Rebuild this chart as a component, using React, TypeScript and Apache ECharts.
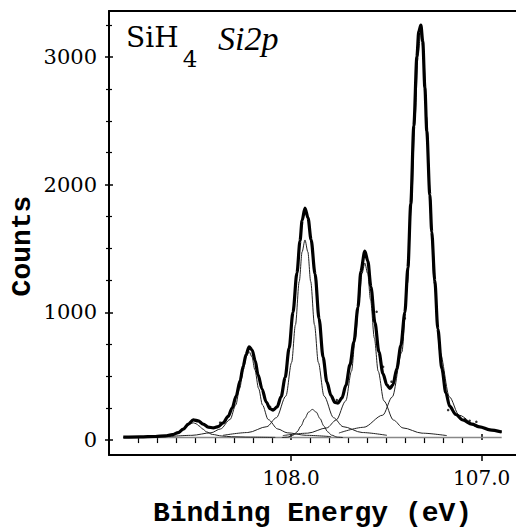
import { useEffect, useRef } from "react";
import * as echarts from "echarts";

// ---- axis ticks / labels ----
const xMajorTicks = [108.0, 107.0];
const xMinorTicks = [108.8, 108.7, 108.6, 108.5, 108.4, 108.3, 108.2, 108.1, 107.9, 107.8, 107.7, 107.6, 107.5, 107.4, 107.3, 107.2, 107.1];
const yMajorTicks = [0, 1000, 2000, 3000];
const yMinorTicks = [250, 500, 750, 1250, 1500, 1750, 2250, 2500, 2750, 3250];

// ---- data: [binding energy (eV), counts] ----
const totalFit: [number, number][] = [
  [108.88, 23], [108.791, 25], [108.712, 28], [108.66, 33], [108.623, 42], [108.592, 58],
  [108.565, 85], [108.539, 125], [108.513, 158], [108.487, 150], [108.461, 125], [108.435, 102],
  [108.408, 95], [108.382, 105], [108.356, 135], [108.33, 185], [108.309, 250], [108.288, 345],
  [108.267, 465], [108.251, 580], [108.236, 670], [108.22, 730], [108.204, 705], [108.188, 620],
  [108.173, 510], [108.152, 400], [108.131, 300], [108.11, 245], [108.094, 235], [108.073, 260],
  [108.052, 340], [108.031, 490], [108.01, 720], [107.99, 1000], [107.969, 1310], [107.953, 1560],
  [107.942, 1720], [107.927, 1817], [107.911, 1740], [107.895, 1570], [107.874, 1300], [107.853, 950],
  [107.832, 650], [107.812, 455], [107.791, 350], [107.77, 295], [107.754, 290], [107.733, 330],
  [107.712, 430], [107.691, 590], [107.67, 770], [107.649, 1040], [107.634, 1320], [107.613, 1480],
  [107.597, 1400], [107.581, 1200], [107.56, 920], [107.539, 690], [107.518, 520], [107.497, 430],
  [107.482, 405], [107.466, 430], [107.445, 560], [107.424, 740], [107.403, 1000], [107.387, 1350],
  [107.372, 1850], [107.356, 2460], [107.34, 3000], [107.33, 3200], [107.319, 3250], [107.309, 3120],
  [107.298, 2760], [107.288, 2420], [107.272, 1920], [107.262, 1630], [107.246, 1250], [107.23, 870],
  [107.209, 560], [107.188, 370], [107.168, 265], [107.136, 200], [107.099, 157], [107.052, 125],
  [107.01, 104], [106.958, 80], [106.895, 63],
];

const peak1: [number, number][] = [
  [108.88, 21], [108.813, 23], [108.713, 26], [108.663, 32], [108.613, 44], [108.583, 64],
  [108.563, 86], [108.543, 111], [108.528, 128], [108.513, 135], [108.498, 128], [108.483, 111],
  [108.463, 86], [108.443, 64], [108.413, 44], [108.363, 32], [108.313, 26], [108.213, 23], [108.083, 21],
];
const peak2: [number, number][] = [
  [108.65, 27], [108.52, 37], [108.42, 57], [108.37, 87], [108.32, 161], [108.29, 275],
  [108.27, 403], [108.25, 551], [108.235, 652], [108.22, 692], [108.205, 652], [108.19, 551],
  [108.17, 403], [108.15, 275], [108.12, 161], [108.07, 87], [108.02, 57], [107.92, 37], [107.79, 27],
];
const peak3: [number, number][] = [
  [108.357, 37], [108.227, 59], [108.127, 105], [108.077, 175], [108.027, 345], [107.997, 608],
  [107.977, 902], [107.957, 1242], [107.942, 1474], [107.927, 1567], [107.912, 1474], [107.897, 1242],
  [107.877, 902], [107.857, 608], [107.827, 345], [107.777, 175], [107.727, 105], [107.627, 59], [107.497, 37],
];
const peak4: [number, number][] = [
  [108.043, 35], [107.913, 54], [107.813, 95], [107.763, 157], [107.713, 307], [107.683, 539],
  [107.663, 799], [107.643, 1099], [107.628, 1304], [107.613, 1386], [107.598, 1304], [107.583, 1099],
  [107.563, 799], [107.543, 539], [107.513, 307], [107.463, 157], [107.413, 95], [107.313, 54], [107.183, 35],
];
const peak5: [number, number][] = [
  [107.749, 55], [107.619, 100], [107.519, 195], [107.469, 338], [107.419, 688], [107.389, 1228],
  [107.369, 1833], [107.349, 2532], [107.334, 3009], [107.319, 3200], [107.304, 3009], [107.289, 2532],
  [107.269, 1833], [107.249, 1228], [107.219, 688], [107.169, 338], [107.119, 195], [107.019, 100], [106.895, 60],
];
const smallPeak: [number, number][] = [
  [108.048, 20], [108.018, 23], [107.988, 39], [107.968, 65], [107.948, 110], [107.928, 168],
  [107.908, 219], [107.888, 240], [107.868, 219], [107.848, 168], [107.828, 110], [107.808, 65],
  [107.788, 39], [107.758, 23], [107.728, 20],
];
const background: [number, number][] = [[108.88, 20], [106.895, 20]];
const rawPoints: [number, number][] = [
  [107.176, 235], [107.089, 162], [107.063, 151], [107.028, 143], [107.517, 574], [107.473, 457],
  [107.76, 313], [107.551, 1005], [107.403, 953], [108.11, 261], [108.372, 136],
];

const X_MIN = 106.82;
const X_MAX = 108.955;
const Y_MIN = -117;
const Y_MAX = 3360;

const hidden = { show: false };

function xAx(extra: any) {
  return {
    type: "value",
    min: X_MIN,
    max: X_MAX,
    inverse: true,
    position: "bottom",
    splitLine: hidden,
    axisLine: hidden,
    axisLabel: hidden,
    axisTick: hidden,
    ...extra,
  };
}
function yAx(extra: any) {
  return {
    type: "value",
    min: Y_MIN,
    max: Y_MAX,
    position: "left",
    splitLine: hidden,
    axisLine: hidden,
    axisLabel: hidden,
    axisTick: hidden,
    ...extra,
  };
}

const serif = "'DejaVu Serif', 'Liberation Serif', serif";
const italicSerif = "'Liberation Serif', serif";
const mono = "'Liberation Mono', 'DejaVu Sans Mono', monospace";

function comp(data: [number, number][], width = 1) {
  return {
    type: "line",
    data,
    xAxisIndex: 0,
    yAxisIndex: 0,
    showSymbol: false,
    symbol: "none",
    smooth: 0.3,
    smoothMonotone: "x",
    lineStyle: { color: "#222", width },
    z: 2,
  };
}

export default function App() {
  const ref = useRef<HTMLDivElement>(null);
  useEffect(() => {
    const chart = echarts.init(ref.current!, null, { renderer: "svg" });
    const option: any = {
      animation: false,
      backgroundColor: "#fff",
      grid: { left: 109, top: 11, right: 0, bottom: 77, containLabel: false },
      xAxis: [
        xAx({
          axisLine: { show: true, onZero: false, lineStyle: { color: "#000", width: 2 } },
          axisTick: { show: true, customValues: xMajorTicks, length: 6, inside: false, lineStyle: { color: "#000", width: 1.5 } },
          axisLabel: {
            show: true,
            customValues: xMajorTicks,
            formatter: (v: number) => v.toFixed(1),
            margin: 13,
            fontFamily: serif,
            fontSize: 20,
            color: "#000",
          },
          name: "Binding Energy (eV)",
          nameLocation: "middle",
          nameGap: 44,
          nameTextStyle: { fontFamily: mono, fontWeight: "bold", fontSize: 28, color: "#000" },
        }),
        xAx({ axisTick: { show: true, customValues: xMajorTicks, length: 6, inside: true, lineStyle: { color: "#000", width: 1.5 } } }),
        xAx({ axisTick: { show: true, customValues: xMinorTicks, length: 3, inside: false, lineStyle: { color: "#000", width: 1.2 } } }),
        xAx({ axisTick: { show: true, customValues: xMinorTicks, length: 3, inside: true, lineStyle: { color: "#000", width: 1.2 } } }),
        xAx({ position: "top", axisLine: { show: true, onZero: false, lineStyle: { color: "#000", width: 2 } } }),
      ],
      yAxis: [
        yAx({
          axisLine: { show: true, onZero: false, lineStyle: { color: "#000", width: 2 } },
          axisTick: { show: true, customValues: yMajorTicks, length: 4, inside: false, lineStyle: { color: "#000", width: 1.5 } },
          axisLabel: {
            show: true,
            customValues: yMajorTicks,
            formatter: (v: number) => String(v),
            margin: 12,
            fontFamily: serif,
            fontSize: 21,
            color: "#000",
          },
        }),
        yAx({ axisTick: { show: true, customValues: yMajorTicks, length: 4, inside: true, lineStyle: { color: "#000", width: 1.5 } } }),
        yAx({ axisTick: { show: true, customValues: yMinorTicks, length: 3, inside: false, lineStyle: { color: "#000", width: 1.2 } } }),
        yAx({ axisTick: { show: true, customValues: yMinorTicks, length: 3, inside: true, lineStyle: { color: "#000", width: 1.2 } } }),
      ],
      series: [
        {
          type: "line",
          data: background,
          xAxisIndex: 0,
          yAxisIndex: 0,
          showSymbol: false,
          symbol: "none",
          lineStyle: { color: "#888", width: 1.5 },
          z: 1,
        },
        comp(peak1),
        comp(peak2),
        comp(peak3),
        comp(peak4),
        comp(peak5),
        comp(smallPeak),
        {
          type: "scatter",
          data: rawPoints,
          xAxisIndex: 0,
          yAxisIndex: 0,
          symbolSize: 2.5,
          itemStyle: { color: "#000" },
          z: 3,
        },
        {
          type: "line",
          data: totalFit,
          xAxisIndex: 0,
          yAxisIndex: 0,
          showSymbol: false,
          symbol: "none",
          smooth: 0.3,
          smoothMonotone: "x",
          lineStyle: { color: "#000", width: 3.2 },
          z: 4,
        },
      ],
      graphic: [
        {
          type: "text",
          x: 126,
          y: 37,
          style: { text: "SiH", fontFamily: serif, fontSize: 28, fill: "#000", textAlign: "left", align: "left", textVerticalAlign: "middle", verticalAlign: "middle" },
        },
        {
          type: "text",
          x: 190,
          y: 59,
          style: { text: "4", fontFamily: serif, fontSize: 23, fill: "#000", textAlign: "center", align: "center", textVerticalAlign: "middle", verticalAlign: "middle" },
        },
        {
          type: "text",
          x: 218,
          y: 38,
          style: { text: "Si2p", fontFamily: italicSerif, fontStyle: "italic", fontSize: 34, fill: "#000", textAlign: "left", align: "left", textVerticalAlign: "middle", verticalAlign: "middle" },
        },
        {
          type: "text",
          x: 22,
          y: 246,
          rotation: Math.PI / 2,
          style: { text: "Counts", fontFamily: mono, fontWeight: "bold", fontSize: 28, fill: "#000", textAlign: "center", align: "center", textVerticalAlign: "middle", verticalAlign: "middle" },
        },
      ],
    };
    chart.setOption(option);
    return () => chart.dispose();
  }, []);
  return (
    <div
      ref={ref}
      style={{ position: "absolute", left: 0, top: 0, width: 516, height: 532, background: "#fff" }}
    />
  );
}
